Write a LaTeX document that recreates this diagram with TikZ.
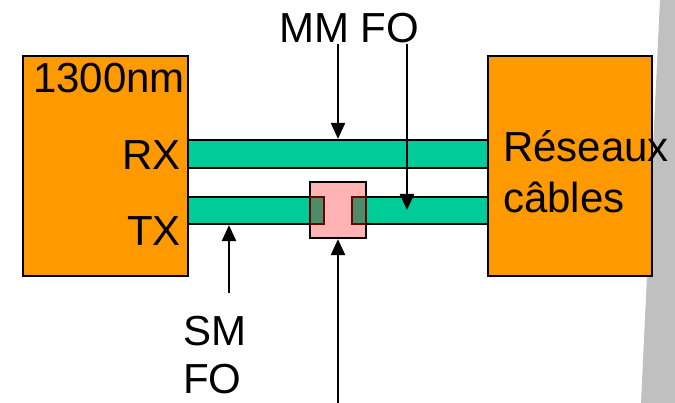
\documentclass[tikz,border=0pt]{standalone}
\usepackage{fontspec}
\setmainfont{Liberation Sans}
\usepackage{tikz}
\usetikzlibrary{arrows.meta, positioning, calc}
\definecolor{BoxOrange}{RGB}{255,153,0}
\definecolor{FibreGreen}{RGB}{0,204,153}
\definecolor{ConnPink}{RGB}{255,179,179}
\definecolor{CoreDark}{RGB}{77,140,102}
\definecolor{CoreEdge}{RGB}{110,0,0}
\definecolor{BandGray}{RGB}{192,192,192}
\begin{document}
\begin{tikzpicture}[x=1pt,y=-1pt,
        box/.style={draw,line width=2.2pt,fill=BoxOrange,inner sep=0pt,
                    minimum width=165pt,minimum height=220pt},
        fib/.style={draw,line width=2.2pt,fill=FibreGreen,inner sep=0pt,
                    minimum width=300pt,minimum height=28pt},
        core/.style={draw=CoreEdge,line width=1.5pt,fill=CoreDark,inner sep=0pt,
                     minimum width=14pt,minimum height=27pt},
        lbl/.style={font=\fontsize{42}{48}\selectfont,inner sep=0pt},
        arr/.style={-{Triangle[length=16pt,width=14pt]},line width=2.4pt}
      ]
        \useasboundingbox (0,0) rectangle (675,403);
        \fill[white] (0,0) rectangle (675,403);
        \fill[BandGray] (660,0) -- (675,0) -- (675,403) -- (641,403) -- cycle;
        % boxes and fibres
        \node[box] (emit) at (105.5,166) {};
        \node[box,minimum width=164pt] (net) at (570,166) {};
        \node[fib] (rxfib) at (338,154) {};
        \node[fib,minimum height=27pt] (txfib) at (338,210.5) {};
        \node[draw,line width=2.2pt,fill=ConnPink,inner sep=0pt,
              minimum size=56pt] (conn) at (338,210) {};
        \node[core] (coreL) at (317,210.5) {};
        \node[core] (coreR) at (359,210.5) {};
        % labels
        \node[lbl,anchor=base west] (wave) at (33,93) {1300nm};
        \node[lbl,anchor=base east] (rx) at (181,170) {RX};
        \node[lbl,anchor=base east] (tx) at (181,246) {TX};
        \node[lbl,anchor=base west] (res) at (503,162) {Réseaux};
        \node[lbl,anchor=base west] (cab) at (503,213) {câbles};
        \node[lbl,anchor=base] (mmfo) at (349,43) {MM FO};
        \node[lbl,anchor=base west] (sm) at (183,346) {SM};
        \node[lbl,anchor=base west] (smfo) at (183,394) {FO};
        % pointers
        \coordinate (mmtip) at (407,210);
        \coordinate (smtail) at (229,293);
        \coordinate (conntail) at (338,403);
        \draw[arr] (mmfo.south -| 338,0) -- (rxfib.north -| 338,0);
        \draw[arr] (mmfo.south -| mmtip) -- (mmtip);
        \draw[arr] (smtail) -- (txfib.south -| smtail);
        \draw[arr] (conntail) -- (conn.south);
      \end{tikzpicture}
\end{document}
